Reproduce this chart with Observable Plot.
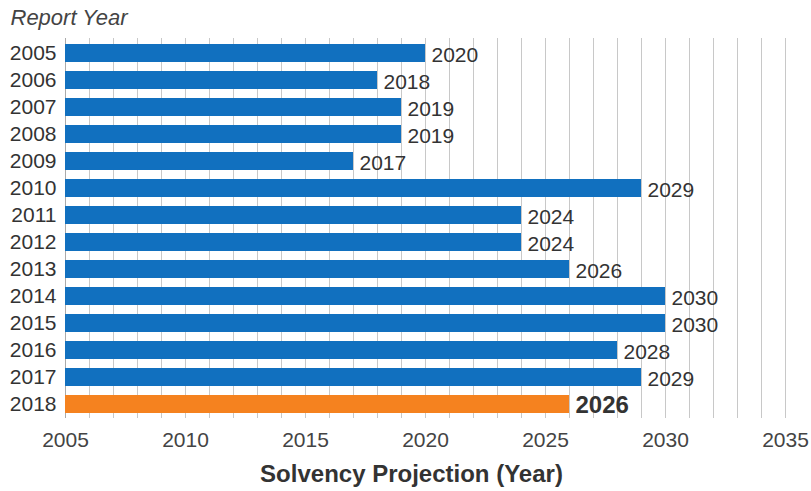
<!DOCTYPE html>
<html>
<head>
<meta charset="utf-8">
<script src="https://cdn.jsdelivr.net/npm/d3@7"></script>
<script src="https://cdn.jsdelivr.net/npm/@observablehq/plot@0.6"></script>
<style>
  html, body { margin: 0; padding: 0; background: #fff; }
  svg { font-family: "Liberation Sans", Arial, sans-serif; }
</style>
</head>
<body>
<div id="chart"></div>
<script>
const reportYears = ["2005","2006","2007","2008","2009","2010","2011","2012","2013","2014","2015","2016","2017","2018"];
const projections = [2020, 2018, 2019, 2019, 2017, 2029, 2024, 2024, 2026, 2030, 2030, 2028, 2029, 2026];
const xTicks = [2005, 2010, 2015, 2020, 2025, 2030, 2035];
const gridYears = d3.range(2006, 2036);
const highlightYear = "2018";

const data = reportYears.map((r, i) => ({report: r, value: projections[i], hl: r === highlightYear}));

const chart = Plot.plot({
  width: 811,
  height: 491,
  marginLeft: 65,
  marginRight: 26,
  marginTop: 38,
  marginBottom: 73,
  style: {fontFamily: '"Liberation Sans", Arial, sans-serif', background: "#fff"},
  x: {domain: [2005, 2035], ticks: xTicks, tickFormat: d => String(d), tickSize: 0, tickPadding: 14, label: null},
  y: {domain: reportYears, paddingInner: 0.34, paddingOuter: 0.17, tickSize: 0, tickPadding: 9, label: null},
  marks: [
    Plot.ruleX(gridYears, {stroke: "#c8c8c8", strokeWidth: 1}),
    Plot.ruleX([2005], {stroke: "#aaa", strokeWidth: 1}),
    Plot.barX(data, {x1: 2005, x2: "value", y: "report", fill: d => d.hl ? "#f5821f" : "#1170bf"}),
    Plot.text(data.filter(d => !d.hl), {x: "value", y: "report", text: d => String(d.value), textAnchor: "start", dx: 6, dy: 2, fontSize: 21, fill: "#333"}),
    Plot.text(data.filter(d => d.hl), {x: "value", y: "report", text: d => String(d.value), textAnchor: "start", dx: 6, dy: 1, fontSize: 24, fontWeight: "bold", fill: "#333"}),
    Plot.axisX({ticks: xTicks, tickFormat: d => String(d), tickSize: 0, tickPadding: 14, fontSize: 21, fill: "#444", label: null}),
    Plot.axisY({tickSize: 0, tickPadding: 9, fontSize: 21, fill: "#333", label: null}),
    Plot.text(["Solvency Projection (Year)"], {frameAnchor: "bottom", dx: -14, dy: 56, fontSize: 24, fontWeight: "bold", fill: "#333", lineAnchor: "middle"}),
    Plot.text(["Report Year"], {frameAnchor: "top-left", dx: -55, dy: -21, textAnchor: "start", lineAnchor: "middle", fontSize: 22, fontStyle: "italic", fill: "#444"})
  ]
});
document.getElementById("chart").appendChild(chart);
</script>
</body>
</html>
